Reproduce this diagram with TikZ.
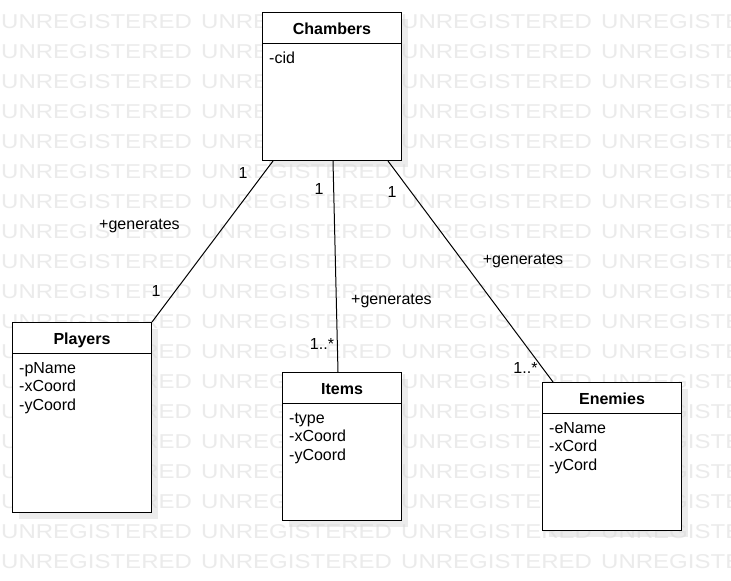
\documentclass[tikz,border=0pt]{standalone}
\usepackage{fontspec}
\setmainfont{Liberation Sans}
\usetikzlibrary{shadows}
\begin{document}
\begin{tikzpicture}[x=1pt,y=-1pt,
  cls/.style={draw=black, fill=white, line width=1pt, anchor=north west, inner sep=0pt,
    drop shadow={shadow xshift=6pt, shadow yshift=-6pt, fill=black!14, opacity=0.5}},
  title/.style={font=\fontsize{16}{18.5}\selectfont\bfseries, anchor=base, inner sep=0pt},
  attrs/.style={font=\fontsize{16}{18.5}\selectfont, anchor=base west, inner sep=0pt},
  lbl/.style={font=\fontsize{16}{18.5}\selectfont, anchor=base, inner sep=0pt},
  wm/.style={font=\fontsize{20}{20}\selectfont, text=black!8, anchor=base west, inner sep=0pt, xscale=1.2},
  conn/.style={draw=black, line width=1pt}]
\useasboundingbox (0,0) rectangle (731,581);
\fill[white] (0,0) rectangle (731,581);
% watermark
\foreach \j in {0,...,18}{
  \foreach \i in {0,...,3}{
    \node[wm] (wm-\i-\j) at (1+200*\i, 28.5+30*\j) {UNREGISTERED};
  }
}
% classes
\node[cls, minimum width=139, minimum height=148] (chambers) at (262,12) {};
\node[cls, minimum width=139, minimum height=190] (players) at (12,322) {};
\node[cls, minimum width=119, minimum height=148] (items) at (282,372) {};
\node[cls, minimum width=139, minimum height=148] (enemies) at (542,382) {};
% header separators
\foreach \n in {chambers,players,items,enemies}{
  \draw[line width=1pt] ([yshift=-31pt]\n.north west) -- ([yshift=-31pt]\n.north east);
}
% titles
\node[title] (t-chambers) at ([yshift=-22pt]chambers.north) {Chambers};
\node[title] (t-players) at ([yshift=-22pt]players.north) {Players};
\node[title] (t-items) at ([yshift=-22pt]items.north) {Items};
\node[title] (t-enemies) at ([yshift=-22pt]enemies.north) {Enemies};
% attributes
\node[attrs] (a-chambers-1) at ([xshift=7pt,yshift=-51pt]chambers.north west) {-cid};
\foreach \t [count=\k] in {-pName,-xCoord,-yCoord}{
  \node[attrs] (a-players-\k) at ([xshift=7pt,yshift={-51pt-18.5pt*(\k-1)}]players.north west) {\t};
}
\foreach \t [count=\k] in {-type,-xCoord,-yCoord}{
  \node[attrs] (a-items-\k) at ([xshift=7pt,yshift={-51pt-18.5pt*(\k-1)}]items.north west) {\t};
}
\foreach \t [count=\k] in {-eName,-xCord,-yCord}{
  \node[attrs] (a-enemies-\k) at ([xshift=7pt,yshift={-51pt-18.5pt*(\k-1)}]enemies.north west) {\t};
}
% connectors
\draw[conn] ([xshift=11pt]chambers.south west) -- (players.north east);
\draw[conn] ([xshift=71pt]chambers.south west) -- ([xshift=56pt]items.north west);
\draw[conn] ([xshift=126pt]chambers.south west) -- ([xshift=11pt]enemies.north west);
% labels
\node[lbl] (l1a) at (243,178) {1};
\node[lbl] (l1g) at (139.5,229) {+generates};
\node[lbl] (l1b) at (156,296) {1};
\node[lbl] (l2a) at (319,194) {1};
\node[lbl] (l2g) at (391.5,304) {+generates};
\node[lbl] (l2b) at (322,349) {1..*};
\node[lbl] (l3a) at (392,197) {1};
\node[lbl] (l3g) at (523,264) {+generates};
\node[lbl] (l3b) at (525.5,373) {1..*};
\end{tikzpicture}
\end{document}
